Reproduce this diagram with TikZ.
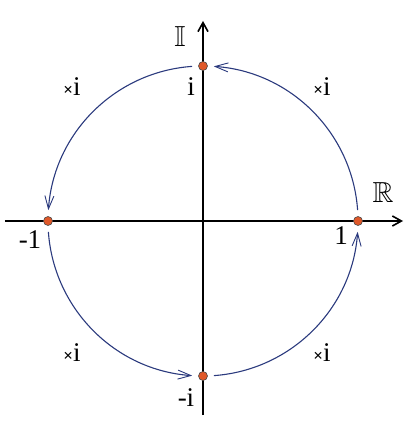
\documentclass[tikz,border=0pt]{standalone}
\usepackage{amssymb}
\usepackage{fontspec}
\setmainfont{Liberation Serif}
\usetikzlibrary{arrows.meta}
\definecolor{arcblue}{HTML}{2B3A7E}
\definecolor{dotorange}{HTML}{E0592A}

\begin{document}
\begin{tikzpicture}[x=1pt,y=1pt,
    dotnode/.style={circle, draw=black!70, fill=dotorange, line width=0.6pt, minimum size=9pt, inner sep=0pt},
    numlabel/.style={font=\fontsize{27}{27}\selectfont, inner sep=0pt},
    setlabel/.style={font=\fontsize{29}{29}\selectfont, inner sep=0pt},
    turnarc/.style={arcblue, line width=1.1pt, -{Straight Barb[length=13pt,width=9pt,line width=0.9pt]}},
    axisline/.style={line width=1.8pt, -{Straight Barb[length=9pt,width=10pt,line width=1.6pt]}}
    ]
    \useasboundingbox (-203,-204) rectangle (208,221);

    \coordinate (o) at (0,0);
    \coordinate (xl) at (-198,0);
    \coordinate (xr) at (200,0);
    \coordinate (yb) at (0,-194);
    \coordinate (yt) at (0,200);

    \draw [axisline] (xl) -- (xr);
    \draw [axisline] (yb) -- (yt);

    \node [setlabel] (lbI) at (-23,184) {$\mathbb{I}$};
    \node [setlabel] (lbR) at (180,28) {$\mathbb{R}$};

    % quarter turns
    \draw [turnarc] ([shift={(4:155)}]o) arc[start angle=4, end angle=86, radius=155];
    \draw [turnarc] ([shift={(94:155)}]o) arc[start angle=94, end angle=176, radius=155];
    \draw [turnarc] ([shift={(184:155)}]o) arc[start angle=184, end angle=266, radius=155];
    \draw [turnarc] ([shift={(274:155)}]o) arc[start angle=274, end angle=356, radius=155];

    \node [dotnode] (p1) at (0:155) {};
    \node [dotnode] (pi) at (90:155) {};
    \node [dotnode] (pm1) at (180:155) {};
    \node [dotnode] (pmi) at (270:155) {};

    \node [numlabel] (t1) at (138,-15) {1};
    \node [numlabel] (ti) at (-12,134) {i};
    \node [numlabel] (tm1) at (-173,-19) {-1};
    \node [numlabel] (tmi) at (-17,-177) {-i};

    \node [numlabel] (m1) at (-131,134) {{\fontsize{17}{17}\selectfont\textbf{×}}i};
    \node [numlabel] (m2) at (119,134) {{\fontsize{17}{17}\selectfont\textbf{×}}i};
    \node [numlabel] (m3) at (-131,-132) {{\fontsize{17}{17}\selectfont\textbf{×}}i};
    \node [numlabel] (m4) at (119,-132) {{\fontsize{17}{17}\selectfont\textbf{×}}i};
\end{tikzpicture}
\end{document}
